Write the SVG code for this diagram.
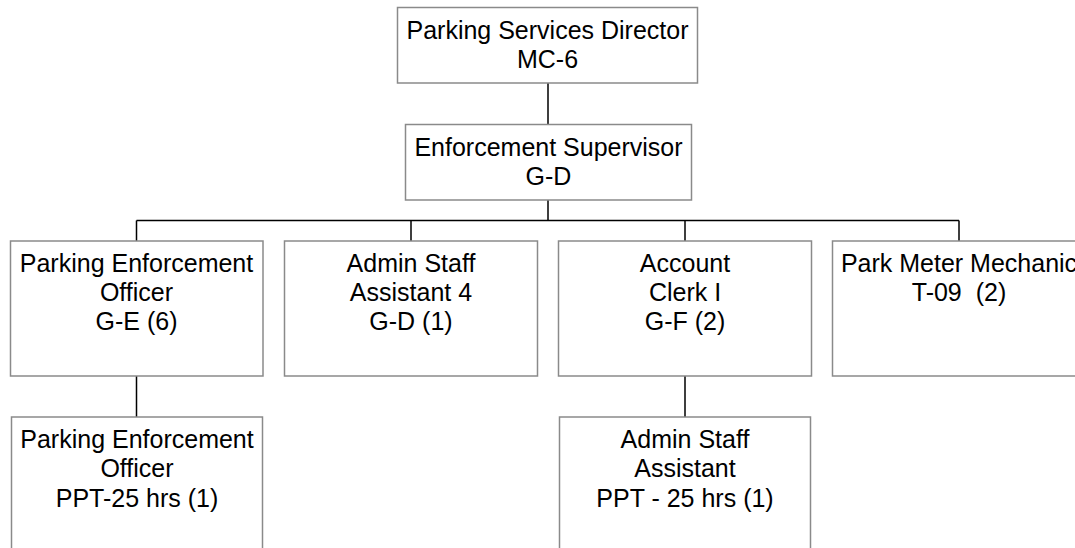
<svg xmlns="http://www.w3.org/2000/svg" width="1075" height="548" viewBox="0 0 1075 548">
<style>
.box{fill:#fff;stroke:#8a8a8a;stroke-width:1.5}
.t{font-family:"Liberation Sans",Arial,sans-serif;font-size:25px;fill:#000;text-anchor:middle;white-space:pre}
.c{stroke:#000;stroke-width:1.5;fill:none}
</style>
<rect width="1075" height="548" fill="#fff"/>
<g id="connectors">
<path class="c" d="M548 83V124M548 200V220.5M136.5 220.5H959M136.5 220.5V241M411 220.5V241M685 220.5V241M959 220.5V241M136.5 376V417M685 376V417"/>
</g>
<g id="director">
<rect class="box" x="397.5" y="7.5" width="300" height="75.5"/>
<text class="t" x="547.5" y="38.5">Parking Services Director</text>
<text class="t" x="547.5" y="68">MC-6</text>
</g>
<g id="supervisor">
<rect class="box" x="405.5" y="124.5" width="286" height="75.5"/>
<text class="t" x="548.5" y="156">Enforcement Supervisor</text>
<text class="t" x="548.5" y="185">G-D</text>
</g>
<g id="peo">
<rect class="box" x="10.5" y="241" width="252.5" height="135"/>
<text class="t" x="136.5" y="271.5">Parking Enforcement</text>
<text class="t" x="136.5" y="300.5">Officer</text>
<text class="t" x="136.5" y="330">G-E (6)</text>
</g>
<g id="admin4">
<rect class="box" x="284.5" y="241" width="253" height="135"/>
<text class="t" x="411" y="271.5">Admin Staff</text>
<text class="t" x="411" y="300.5">Assistant 4</text>
<text class="t" x="411" y="330">G-D (1)</text>
</g>
<g id="clerk">
<rect class="box" x="558.5" y="241" width="253" height="135"/>
<text class="t" x="685" y="271.5">Account</text>
<text class="t" x="685" y="300.5">Clerk I</text>
<text class="t" x="685" y="330">G-F (2)</text>
</g>
<g id="mechanic">
<rect class="box" x="832.5" y="241" width="253" height="135"/>
<text class="t" x="959" y="271.5">Park Meter Mechanic</text>
<text class="t" x="959" y="300.5">T-09  (2)</text>
</g>
<g id="peo-ppt">
<rect class="box" x="11.5" y="417" width="251" height="150"/>
<text class="t" x="137" y="447.5">Parking Enforcement</text>
<text class="t" x="137" y="476.5">Officer</text>
<text class="t" x="137" y="506.5">PPT-25 hrs (1)</text>
</g>
<g id="admin-ppt">
<rect class="box" x="559.5" y="417" width="251" height="150"/>
<text class="t" x="685" y="447.5">Admin Staff</text>
<text class="t" x="685" y="476.5">Assistant</text>
<text class="t" x="685" y="506.5">PPT - 25 hrs (1)</text>
</g>
</svg>
